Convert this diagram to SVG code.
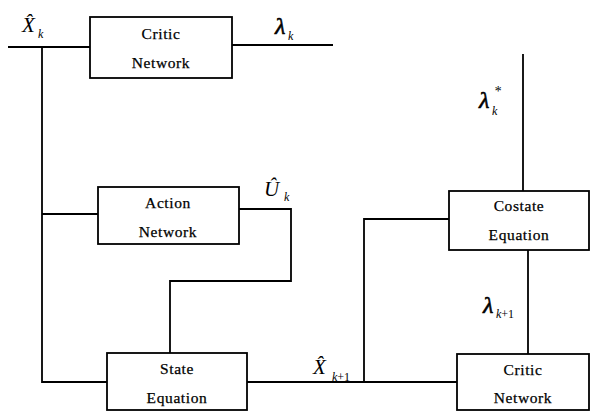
<svg xmlns="http://www.w3.org/2000/svg" width="593" height="414" viewBox="0 0 593 414">
<style>
.box{fill:#fff;stroke:#000;stroke-width:1.8}
.ln{fill:none;stroke:#000;stroke-width:1.8}
.t{font-family:"Liberation Serif",serif;font-size:15.5px;letter-spacing:0.6px;text-anchor:middle;fill:#000;stroke:#000;stroke-width:0.25}
.m{font-family:"Liberation Serif",serif;font-style:italic;fill:#000}
.big{font-size:21px}
.lam{font-size:24px;stroke:#000;stroke-width:0.6}
.sub{font-size:12px}
.up{font-style:normal}
</style>
<rect width="593" height="414" fill="#fff"/>
<g id="connectors">
<polyline class="ln" points="8,47 90,47"/>
<polyline class="ln" points="232,45 333,45"/>
<polyline class="ln" points="42,47 42,382 107,382"/>
<polyline class="ln" points="42,214 98,214"/>
<polyline class="ln" points="239,209 291,209 291,281 170,281 170,353"/>
<polyline class="ln" points="247,382 457,382"/>
<polyline class="ln" points="364,382 364,219 449,219"/>
<polyline class="ln" points="523,54 523,191"/>
<polyline class="ln" points="528,250 528,354"/>
</g>
<g id="critic-top">
<rect class="box" x="90" y="17" width="142" height="61"/>
<text class="t" x="161" y="39">Critic</text>
<text class="t" x="161" y="68">Network</text>
</g>
<g id="action">
<rect class="box" x="98" y="187" width="141" height="57"/>
<text class="t" x="168" y="208">Action</text>
<text class="t" x="168" y="237">Network</text>
</g>
<g id="state">
<rect class="box" x="107" y="353" width="140" height="57"/>
<text class="t" x="177" y="374">State</text>
<text class="t" x="177" y="403">Equation</text>
</g>
<g id="costate">
<rect class="box" x="449" y="191" width="140" height="59"/>
<text class="t" x="519" y="211">Costate</text>
<text class="t" x="519" y="240">Equation</text>
</g>
<g id="critic-bottom">
<rect class="box" x="457" y="354" width="132" height="56"/>
<text class="t" x="523" y="375">Critic</text>
<text class="t" x="523" y="403">Network</text>
</g>
<g id="labels">
<text class="m big" x="22" y="32">X&#x302;</text>
<text class="m sub" x="38" y="38">k</text>
<text class="m lam" x="275" y="34">λ</text>
<text class="m sub" x="288" y="40">k</text>
<text class="m lam" x="479" y="108">λ</text>
<text class="m" x="494" y="96" font-size="14">*</text>
<text class="m sub" x="492" y="115">k</text>
<text class="m big" x="264" y="196">U&#x302;</text>
<text class="m sub" x="284" y="201">k</text>
<text class="m big" x="313" y="374">X&#x302;</text>
<text class="m sub" x="332" y="381">k<tspan class="up">+1</tspan></text>
<text class="m lam" x="483" y="313">λ</text>
<text class="m sub" x="496" y="318">k<tspan class="up">+1</tspan></text>
</g>
</svg>
